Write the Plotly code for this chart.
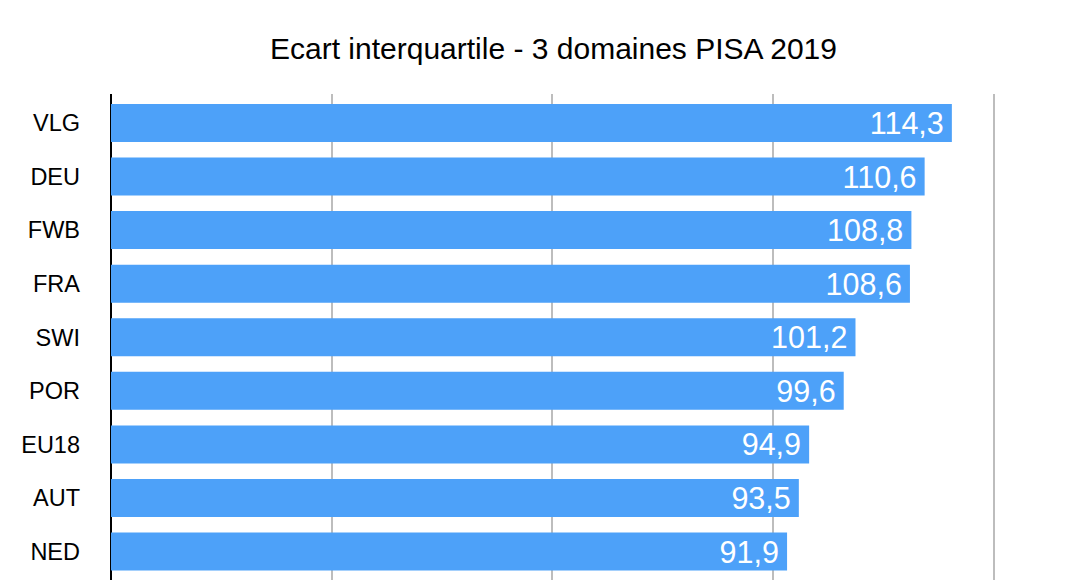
import plotly.graph_objects as go

categories = ["VLG", "DEU", "FWB", "FRA", "SWI", "POR", "EU18", "AUT", "NED"]
values = [114.3, 110.6, 108.8, 108.6, 101.2, 99.6, 94.9, 93.5, 91.9]
labels = [f"{v:.1f}".replace(".", ",") + "\u2006" for v in values]
title_text = "Ecart interquartile - 3 domaines PISA 2019"

FONT = "Liberation Sans, Arial, Helvetica, sans-serif"

fig = go.Figure()
fig.add_trace(go.Bar(
    x=values,
    y=categories,
    orientation="h",
    width=0.71,
    marker=dict(color="#4DA1F9", line=dict(width=0)),
    text=labels,
    textposition="inside",
    insidetextanchor="end",
    textangle=0,
    constraintext="none",
    textfont=dict(family=FONT, size=30.5, color="white"),
    hoverinfo="skip",
))

fig.update_layout(
    width=1068,
    height=580,
    margin=dict(l=103, r=80, t=86, b=8, pad=0),
    paper_bgcolor="white",
    plot_bgcolor="white",
    showlegend=False,
    title=dict(
        text=title_text,
        x=0.5, xref="paper", xanchor="center",
        y=1 - 40 / 580, yref="container", yanchor="middle",
        font=dict(family=FONT, size=30, color="black"),
    ),
    font=dict(family=FONT, color="black"),
)

fig.update_xaxes(
    range=[0, 120.3],
    tickvals=[0, 30, 60, 90, 120],
    showgrid=True,
    gridcolor="#BDBDBD",
    gridwidth=2,
    zeroline=True,
    zerolinecolor="black",
    zerolinewidth=2,
    showticklabels=False,
    ticks="",
    showline=False,
    fixedrange=True,
)
fig.update_yaxes(
    type="category",
    categoryorder="array",
    categoryarray=categories,
    range=[8.53, -0.54],
    showgrid=False,
    zeroline=False,
    showline=False,
    ticks="",
    ticklabelstandoff=30,
    tickfont=dict(family=FONT, size=23.5, color="black"),
    fixedrange=True,
)

fig.write_html("out.html")
